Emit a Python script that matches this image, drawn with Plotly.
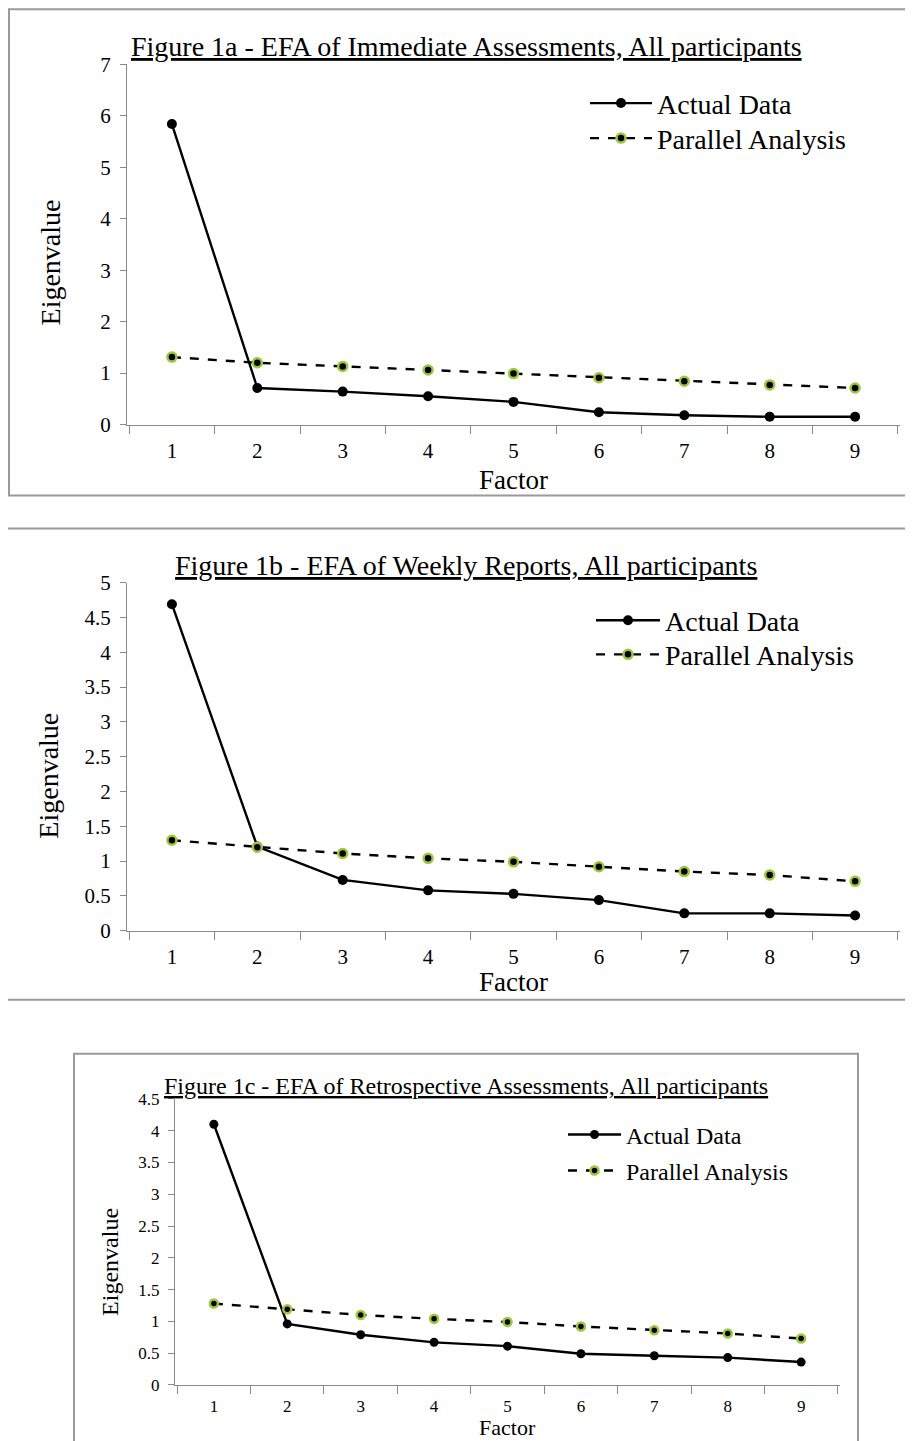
import plotly.graph_objects as go

# Layout positions below are given in reference-picture pixels; px_x/px_y map
# them to paper coordinates (page has an 8px body margin and the capture is
# slightly compressed vertically, compensated by K and TOP).
PAGE_W = 913
OFF_X = 8
TOP = 20.0
K = 0.983
W = PAGE_W - 2 * OFF_X
H = 1450

factors = ["1", "2", "3", "4", "5", "6", "7", "8", "9"]

actual_1a = [5.84, 0.71, 0.64, 0.55, 0.44, 0.24, 0.18, 0.15, 0.15]
parallel_1a = [1.31, 1.20, 1.13, 1.06, 0.99, 0.91, 0.84, 0.77, 0.71]

actual_1b = [4.69, 1.21, 0.73, 0.58, 0.53, 0.44, 0.25, 0.25, 0.22]
parallel_1b = [1.30, 1.20, 1.11, 1.04, 0.99, 0.92, 0.85, 0.80, 0.71]

actual_1c = [4.10, 0.96, 0.79, 0.67, 0.61, 0.49, 0.46, 0.43, 0.36]
parallel_1c = [1.28, 1.19, 1.10, 1.04, 0.99, 0.92, 0.86, 0.81, 0.73]

titles = [
    "Figure 1a - EFA of Immediate Assessments, All participants",
    "Figure 1b - EFA of Weekly Reports, All participants",
    "Figure 1c - EFA of Retrospective Assessments, All participants",
]
series_names = ["Actual Data", "Parallel Analysis"]

FONT = "Liberation Serif, Times New Roman, serif"
AXIS_GRAY = "#8a8a8a"
BOX_GRAY = "#9a9a9a"
GREEN = "#9cc83c"


def px_x(x):
    return (x - OFF_X) / W


def px_y(y):
    return 1 - (y / K - TOP) / H


panels = [
    dict(actual=actual_1a, parallel=parallel_1a, title=titles[0],
         xd=(127, 900), yd=(64, 424), yrange=(0, 7), dtick=1,
         tickfont=21, axfont=27, titlefont=28, legfont=28, standoff=7,
         box=(9, 9, 930, 495), title_y=46, leg_x=585, leg_w=62, leg_rows=(103, 138),
         ylab_x=50, ylab_y=262, ylab_font=28, factor_y=479, mk=10),
    dict(actual=actual_1b, parallel=parallel_1b, title=titles[1],
         xd=(127, 900), yd=(582, 930), yrange=(0, 5), dtick=0.5,
         tickfont=21, axfont=27, titlefont=28, legfont=28, standoff=7,
         box=(7, 528, 930, 999), title_y=565, leg_x=591, leg_w=64, leg_rows=(620, 654),
         ylab_x=49, ylab_y=775, ylab_font=28, factor_y=981, mk=10),
    dict(actual=actual_1c, parallel=parallel_1c, title=titles[2],
         xd=(175, 840), yd=(1098, 1384), yrange=(0, 4.5), dtick=0.5,
         tickfont=17, axfont=22, titlefont=24, legfont=24, standoff=5,
         box=(74, 1053, 858, 1480), title_y=1085, leg_x=563, leg_w=53, leg_rows=(1134, 1170),
         ylab_x=110, ylab_y=1261, ylab_font=24, factor_y=1427, mk=9),
]

fig = go.Figure()
annotations = []
shapes = []
legend_count = 0

for i, p in enumerate(panels):
    n = "" if i == 0 else str(i + 1)
    xa = "x" + n
    ya = "y" + n

    traces = [
        dict(y=p["actual"], name=series_names[0],
             line=dict(color="black", width=2.4),
             marker=dict(color="black", size=p["mk"])),
        dict(y=p["parallel"], name=series_names[1],
             line=dict(color="black", width=2.4, dash="dash"),
             marker=dict(color="black", size=p["mk"] - 1, line=dict(color=GREEN, width=2.5))),
    ]
    for j, t in enumerate(traces):
        legend_count += 1
        leg = "legend" if legend_count == 1 else "legend" + str(legend_count)
        fig.add_trace(go.Scatter(
            x=factors, y=t["y"], name=t["name"], mode="lines+markers",
            line=t["line"], marker=t["marker"], xaxis=xa, yaxis=ya, legend=leg,
        ))
        fig.update_layout(**{leg: dict(
            x=px_x(p["leg_x"]), y=px_y(p["leg_rows"][j]),
            xanchor="left", yanchor="middle", bgcolor="rgba(0,0,0,0)",
            font=dict(family=FONT, size=p["legfont"], color="black"),
            itemwidth=p["leg_w"], borderwidth=0,
        )})

    x0, x1 = p["xd"]
    ytop, ybot = p["yd"]
    fig.update_layout(**{
        "xaxis" + n: dict(
            domain=[px_x(x0), px_x(x1)], anchor=ya, type="category",
            tickson="boundaries", ticks="outside", ticklen=8, tickcolor=AXIS_GRAY,
            showline=True, linecolor=AXIS_GRAY, linewidth=1.3, showgrid=False,
            zeroline=False, tickfont=dict(family=FONT, size=p["tickfont"], color="black"),
            ticklabelstandoff=p["standoff"], fixedrange=True,
        ),
        "yaxis" + n: dict(
            domain=[px_y(ybot), px_y(ytop)], anchor=xa, range=list(p["yrange"]),
            dtick=p["dtick"], ticks="outside", ticklen=6, tickcolor=AXIS_GRAY,
            showline=True, linecolor=AXIS_GRAY, linewidth=1.3, showgrid=False,
            zeroline=False, tickfont=dict(family=FONT, size=p["tickfont"], color="black"),
            ticklabelstandoff=5, fixedrange=True,
        ),
    })

    bx0, by0, bx1, by1 = p["box"]
    shapes.append(dict(type="rect", xref="paper", yref="paper",
                       x0=px_x(bx0), x1=px_x(bx1), y0=px_y(by1), y1=px_y(by0),
                       line=dict(color=BOX_GRAY, width=2)))

    annotations.append(dict(
        text="<u>" + p["title"] + "</u>", xref="paper", yref="paper",
        x=px_x(466), y=px_y(p["title_y"]), xanchor="center", yanchor="middle",
        showarrow=False, font=dict(family=FONT, size=p["titlefont"], color="black"),
    ))
    annotations.append(dict(
        text="Eigenvalue", xref="paper", yref="paper",
        x=px_x(p["ylab_x"]), y=px_y(p["ylab_y"]), xanchor="center", yanchor="middle",
        textangle=-90, showarrow=False,
        font=dict(family=FONT, size=p["ylab_font"], color="black"),
    ))
    annotations.append(dict(
        text="Factor", xref="paper", yref="paper",
        x=px_x((x0 + x1) / 2), y=px_y(p["factor_y"]), xanchor="center", yanchor="middle",
        showarrow=False, font=dict(family=FONT, size=p["axfont"], color="black"),
    ))

fig.update_layout(
    width=W, height=H, margin=dict(l=0, r=0, t=0, b=0),
    paper_bgcolor="white", plot_bgcolor="white",
    showlegend=True, shapes=shapes, annotations=annotations,
    font=dict(family=FONT, color="black"),
)

fig.write_html("out.html")
